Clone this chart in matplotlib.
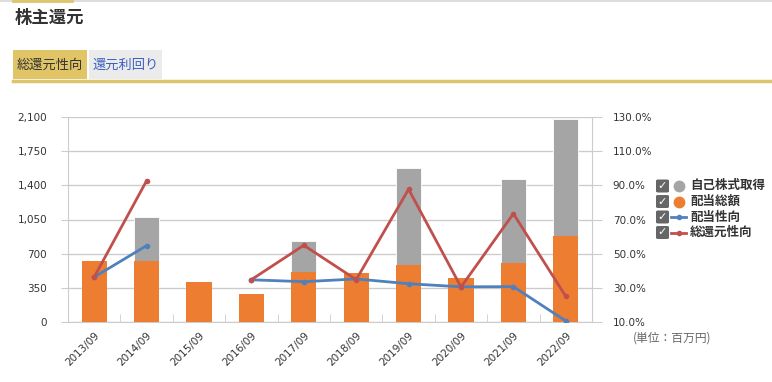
import matplotlib
matplotlib.use("Agg")
import matplotlib.pyplot as plt
import numpy as np
from matplotlib.patches import Rectangle, FancyBboxPatch
from matplotlib.lines import Line2D

plt.rcParams['font.family'] = ['Noto Sans CJK JP', 'DejaVu Sans']

# data (million yen / %)
periods = ['2013/09', '2014/09', '2015/09', '2016/09', '2017/09',
           '2018/09', '2019/09', '2020/09', '2021/09', '2022/09']
dividends = [625, 628, 413, 290, 515, 502, 580, 450, 607, 884]
buybacks = [0, 447, 0, 0, 315, 0, 997, 0, 857, 1195]
payout_ratio = [36.3, 54.7, np.nan, 34.7, 33.6, 35.2, 32.4, 30.6, 30.7, 10.6]
total_return_ratio = [36.3, 92.7, np.nan, 34.8, 54.9, 34.8, 87.7, 30.5, 73.4, 25.0]

left_ticks = [0, 350, 700, 1050, 1400, 1750, 2100]
right_ticks = [10, 30, 50, 70, 90, 110, 130]

c_orange = '#ED7D31'
c_gray = '#A5A5A5'
c_blue = '#4F81BD'
c_red = '#C0504D'
c_grid = '#CCCCCC'
c_text = '#333333'

W, H = 772, 382
fig = plt.figure(figsize=(W / 100, H / 100), dpi=100)

def fx(px):
    return px / W

def fy(py):
    return 1 - py / H

# header: top rule, title, tabs
fig.add_artist(Line2D([0, 1], [fy(0.8), fy(0.8)], color='#DDDDDD', lw=1.5))
fig.add_artist(Line2D([fx(13), fx(72)], [fy(0.8), fy(0.8)], color='#DCC46C', lw=2))
fig.text(fx(15), fy(18), '株主還元', fontsize=12.5, fontweight='bold',
         color=c_text, va='center', ha='left')
fig.add_artist(Rectangle((fx(13), fy(79)), fx(74), fy(50) - fy(79),
                         transform=fig.transFigure, color='#E0C466', lw=0))
fig.add_artist(Rectangle((fx(89), fy(79)), fx(73), fy(50) - fy(79),
                         transform=fig.transFigure, color='#EBEBEB', lw=0))
fig.text(fx(50), fy(65), '総還元性向', fontsize=9.5, color=c_text, ha='center', va='center')
fig.text(fx(125.5), fy(65), '還元利回り', fontsize=9.5, color='#3A5FC0', ha='center', va='center')
fig.add_artist(Line2D([fx(13), 1], [fy(80.5), fy(80.5)], color='#DCC46C', lw=2.5))

# main axes
ax = fig.add_axes([fx(68), fy(322), fx(592 - 68), fy(117) - fy(322)])
x = np.arange(len(periods))
ax.bar(x, buybacks, width=0.48, bottom=dividends, color=c_gray, zorder=3,
       edgecolor='white', linewidth=0.6)
ax.bar(x, dividends, width=0.48, color=c_orange, zorder=3)
ax.set_xlim(-0.5, len(periods) - 0.5)
ax.set_ylim(0, 2100)
ax.set_yticks(left_ticks)
ax.set_yticklabels([f'{v:,}' for v in left_ticks])
ax.yaxis.grid(True, color=c_grid, lw=1, zorder=0)
ax.set_axisbelow(True)
ax.set_xticks(x)
ax.set_xticklabels(periods, rotation=45, ha='right', va='top', rotation_mode='anchor')
ax.set_xticks(np.arange(len(periods) + 1) - 0.5, minor=True)
ax.tick_params(axis='x', which='major', length=0, pad=6, labelsize=7.5, labelcolor=c_text)
ax.tick_params(axis='x', which='minor', length=6, direction='in', color=c_grid)
ax.tick_params(axis='y', length=5, color=c_grid, labelsize=7.5, labelcolor=c_text, pad=10)
for lbl in ax.get_xticklabels() + ax.get_yticklabels():
    lbl.set_family('DejaVu Sans')
for s in ['top', 'right']:
    ax.spines[s].set_visible(False)
for s in ['left', 'bottom']:
    ax.spines[s].set_color(c_grid)

ax2 = ax.twinx()
ax2.plot(x, payout_ratio, color=c_blue, lw=2, marker='o', ms=3, zorder=4)
ax2.plot(x, total_return_ratio, color=c_red, lw=2, marker='o', ms=3, zorder=4)
ax2.set_ylim(10, 130)
ax2.set_yticks(right_ticks)
ax2.set_yticklabels([f'{v:.1f}%' for v in right_ticks])
ax2.tick_params(axis='y', length=7, color=c_grid, labelsize=7.5, labelcolor=c_text, pad=8)
for lbl in ax2.get_yticklabels():
    lbl.set_family('DejaVu Sans')
for s in ['top', 'left', 'bottom']:
    ax2.spines[s].set_visible(False)
ax2.spines['right'].set_color(c_grid)

# legend (drawn by hand)
legend_rows = [('自己株式取得', 'dot', c_gray), ('配当総額', 'dot', c_orange),
               ('配当性向', 'line', c_blue), ('総還元性向', 'line', c_red)]
for i, (name, kind, col) in enumerate(legend_rows):
    cy = 186 + i * 15.5
    fig.add_artist(FancyBboxPatch((fx(656), fy(cy + 6.5)), fx(13), fy(cy - 6.5) - fy(cy + 6.5),
                                  boxstyle='round,pad=0,rounding_size=0.003',
                                  transform=fig.transFigure, color='#666666', lw=0))
    fig.text(fx(662.5), fy(cy), '✓', color='white', fontsize=8, fontweight='bold',
             ha='center', va='center', family='DejaVu Sans')
    if kind == 'dot':
        fig.add_artist(Line2D([fx(678.5)], [fy(cy)], marker='o', ms=7.5, color=col, lw=0))
    else:
        fig.add_artist(Line2D([fx(671), fx(686)], [fy(cy), fy(cy)], color=col, lw=2))
        fig.add_artist(Line2D([fx(678.5)], [fy(cy)], marker='o', ms=3, color=col, lw=0))
    fig.text(fx(690), fy(cy), name, fontsize=9, fontweight='bold', color=c_text,
             ha='left', va='center')

fig.text(fx(633), fy(338), '(単位：百万円)', fontsize=8.5, color='#666666', ha='left', va='center')

fig.savefig('out.png', dpi=100)
